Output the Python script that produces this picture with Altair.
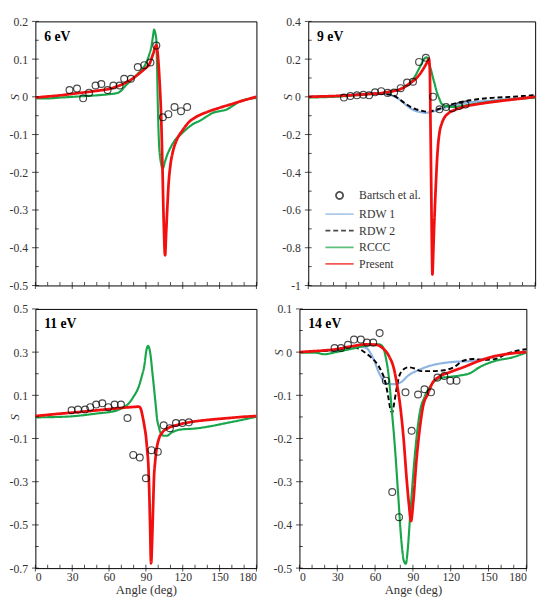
import altair as alt
import pandas as pd

FONT = "Liberation Serif, Times New Roman, DejaVu Serif, serif"
RED = "#f20f0f"
GREEN = "#19a64a"
BLUE = "#8db4e2"
BLACK = "#000000"
TXT = "#333333"

SERIES = ["Bartsch et al.", "RDW 1", "RDW 2", "RCCC", "Present"]

X_MAJOR = [0, 30, 60, 90, 120, 150, 180]
X_MINOR = [10, 20, 40, 50, 70, 80, 100, 110, 130, 140, 160, 170]

# ---------------- 6 eV ----------------
exp6_x = [27.8, 33.9, 38.9, 43.7, 49.0, 53.7, 58.8, 63.5, 68.6, 72.3, 77.8, 83.4, 88.7, 93.7, 98.5, 103.8, 108.3, 113.3, 118.6, 123.6]
exp6_y = [0.018, 0.022, -0.004, 0.011, 0.030, 0.034, 0.018, 0.030, 0.030, 0.048, 0.048, 0.079, 0.084, 0.091, 0.136, -0.054, -0.046, -0.027, -0.038, -0.027]
red6_x = [0, 10, 20, 30, 40, 50, 60, 65, 70, 75, 80, 85, 90, 93, 95.8, 98.5, 100, 101, 102.5, 103.3, 104.5, 105.6, 106.5, 107.5, 108.5, 110, 112, 115, 120, 125, 130, 140, 150, 160, 170, 180]
red6_y = [-0.002, 0.001, 0.004, 0.008, 0.012, 0.016, 0.021, 0.026, 0.032, 0.040, 0.050, 0.063, 0.077, 0.088, 0.113, 0.137, 0.100, 0.050, -0.060, -0.160, -0.330, -0.420, -0.360, -0.290, -0.230, -0.180, -0.145, -0.115, -0.088, -0.067, -0.055, -0.040, -0.029, -0.019, -0.009, 0.0]
green6_x = [0, 10, 20, 30, 40, 50, 60, 65, 68.6, 73.3, 78.6, 83.9, 89.2, 92.4, 94.5, 96.1, 96.6, 97.7, 98.5, 99.0, 99.8, 100.6, 102, 103.8, 105.5, 107.7, 110, 113, 118.3, 123.6, 128.9, 134.2, 139.5, 144.8, 150.1, 155.4, 160.7, 166, 171.3, 180]
green6_y = [-0.004, -0.004, -0.002, 0.0, 0.002, 0.004, 0.007, 0.009, 0.013, 0.029, 0.046, 0.063, 0.084, 0.109, 0.134, 0.168, 0.178, 0.168, 0.151, 0.092, -0.034, -0.118, -0.170, -0.190, -0.172, -0.151, -0.135, -0.118, -0.100, -0.084, -0.071, -0.063, -0.052, -0.042, -0.038, -0.034, -0.024, -0.013, -0.007, -0.003]

# ---------------- 9 eV ----------------
exp9_x = [28.3, 33.4, 38.6, 43.7, 48.3, 53.0, 57.9, 63.0, 68.1, 73.3, 78.4, 83.1, 87.9, 93.3, 99.0, 104.1, 109.3, 114.4, 119.6, 124.7]
exp9_y = [-0.004, 0.004, 0.008, 0.011, 0.008, 0.024, 0.030, 0.021, 0.023, 0.046, 0.076, 0.080, 0.185, 0.207, 0.001, -0.066, -0.054, -0.061, -0.049, -0.041]
red9_x = [0, 10, 20, 30, 40, 50, 56.6, 60, 65, 72, 76, 79.7, 84.9, 87.5, 90, 92.5, 95.1, 95.7, 96.4, 97.0, 97.6, 98.1, 98.5, 99.2, 99.8, 100.5, 101.2, 102.3, 103.2, 104.1, 106, 108, 111, 115, 120, 125, 135, 150, 165, 180]
red9_y = [0.0, 0.002, 0.004, 0.007, 0.011, 0.016, 0.018, 0.022, 0.028, 0.038, 0.050, 0.068, 0.093, 0.112, 0.135, 0.162, 0.194, 0.202, 0.150, -0.150, -0.500, -0.800, -0.942, -0.820, -0.700, -0.580, -0.470, -0.320, -0.240, -0.190, -0.140, -0.110, -0.088, -0.072, -0.060, -0.050, -0.038, -0.024, -0.012, 0.0]
green9_x = [0, 10, 20, 30, 40, 50, 60, 70, 75, 80, 82.3, 85, 87.4, 89.5, 91.3, 93.9, 95.1, 96.4, 97.7, 99, 100.3, 101.6, 102.9, 104.1, 105.4, 107, 109.3, 115.7, 120, 130, 140, 150, 160, 170, 180]
green9_y = [-0.004, -0.002, 0.0, 0.004, 0.010, 0.015, 0.022, 0.035, 0.048, 0.068, 0.085, 0.113, 0.143, 0.170, 0.194, 0.210, 0.194, 0.165, 0.135, 0.100, 0.068, 0.035, 0.009, -0.012, -0.033, -0.042, -0.049, -0.054, -0.050, -0.040, -0.030, -0.022, -0.015, -0.009, -0.004]
blue9_x = [0, 10, 20, 30, 40, 50, 56.6, 62, 66.9, 71, 74.6, 78, 82.3, 86, 90, 93, 95.1, 99, 102.9, 108, 113.1, 118, 123.4, 130, 141.4, 155.6, 170, 180]
blue9_y = [0.0, 0.002, 0.004, 0.008, 0.012, 0.016, 0.018, 0.014, 0.006, -0.008, -0.026, -0.045, -0.066, -0.076, -0.082, -0.085, -0.084, -0.078, -0.070, -0.058, -0.049, -0.040, -0.033, -0.028, -0.022, -0.013, -0.006, -0.002]
black9_x = [0, 10, 20, 30, 40, 50, 56.6, 62, 66.9, 71, 74.6, 78, 82.3, 86, 90, 95.1, 99, 102.9, 108, 113.1, 118, 123.4, 130, 141.4, 155.6, 170, 180]
black9_y = [0.0, 0.002, 0.004, 0.008, 0.012, 0.016, 0.018, 0.015, 0.009, -0.006, -0.024, -0.040, -0.058, -0.067, -0.074, -0.079, -0.074, -0.066, -0.052, -0.041, -0.032, -0.024, -0.017, -0.007, -0.002, 0.004, 0.009]

# ---------------- 11 eV ----------------
exp11_x = [29.5, 34.7, 40.5, 44.7, 49.5, 54.5, 59.5, 64.5, 69.7, 75.0, 79.7, 85.0, 90.0, 94.5, 99.7, 104.5, 109.5, 114.5, 119.7, 125.0]
exp11_y = [0.031, 0.034, 0.034, 0.045, 0.057, 0.063, 0.045, 0.057, 0.057, -0.005, -0.176, -0.188, -0.284, -0.154, -0.161, -0.039, -0.052, -0.028, -0.028, -0.025]
red11_x = [0, 20, 40, 60, 76.8, 82, 84.2, 86, 87.4, 89, 90, 91, 92.1, 92.8, 93.4, 94.2, 95.3, 96, 96.6, 97.5, 98.4, 100.5, 103.2, 108.4, 116.3, 129.5, 142, 155.8, 168, 180]
red11_y = [0.004, 0.015, 0.025, 0.036, 0.045, 0.047, 0.048, 0.035, 0.0, -0.050, -0.088, -0.150, -0.235, -0.360, -0.500, -0.678, -0.530, -0.390, -0.279, -0.210, -0.161, -0.103, -0.073, -0.051, -0.036, -0.021, -0.013, -0.006, 0.0, 0.004]
green11_x = [0, 24, 50.5, 66.3, 71.6, 74.2, 79.5, 84.7, 86.5, 88.7, 90.5, 91.8, 93.9, 95.2, 96.6, 97.9, 99.2, 100.5, 101.8, 104.5, 107.1, 111, 118.9, 129.5, 142.6, 155.8, 168, 180]
green11_y = [-0.002, 0.001, 0.016, 0.030, 0.045, 0.053, 0.090, 0.149, 0.185, 0.237, 0.311, 0.329, 0.281, 0.210, 0.134, 0.060, -0.013, -0.045, -0.072, -0.087, -0.087, -0.072, -0.058, -0.054, -0.043, -0.028, -0.014, 0.001]

# ---------------- 14 eV ----------------
exp14_x = [27.9, 33.0, 38.5, 43.3, 48.7, 53.6, 58.5, 63.6, 68.5, 73.6, 79.0, 84.1, 89.0, 94.1, 99.2, 104.4, 109.5, 114.9, 119.7, 124.6]
exp14_y = [0.0096, 0.0096, 0.017, 0.029, 0.029, 0.022, 0.022, 0.044, -0.066, -0.324, -0.382, -0.093, -0.182, -0.098, -0.086, -0.093, -0.059, -0.055, -0.066, -0.066]
red14_x = [0, 10, 20, 27.4, 40.3, 53, 60.8, 65.9, 71, 74.9, 77.4, 80, 82.6, 85.1, 86.9, 88.5, 90.3, 92.8, 95.4, 98, 101.8, 105.6, 110.8, 119.7, 130, 142.8, 155.6, 168, 180]
red14_y = [0.0, 0.002, 0.004, 0.006, 0.013, 0.018, 0.017, 0.0096, -0.009, -0.038, -0.075, -0.126, -0.200, -0.296, -0.354, -0.391, -0.346, -0.251, -0.178, -0.126, -0.097, -0.071, -0.057, -0.046, -0.035, -0.020, -0.009, -0.003, 0.0]
green14_x = [0, 12, 19.7, 27.4, 40.3, 53, 63.3, 66, 68.5, 71, 73, 75.6, 78.2, 80.8, 82.8, 84.4, 85.9, 87.7, 90.3, 92.8, 95.4, 99.2, 103.1, 106.9, 112, 119.7, 127.4, 135.1, 142.8, 155.6, 168.5, 180]
green14_y = [-0.001, -0.001, -0.005, -0.001, 0.007, 0.015, 0.018, 0.013, -0.0125, -0.060, -0.126, -0.215, -0.325, -0.435, -0.483, -0.490, -0.457, -0.384, -0.281, -0.200, -0.141, -0.104, -0.082, -0.068, -0.060, -0.057, -0.054, -0.049, -0.035, -0.020, -0.0125, -0.001]
blue14_x = [0, 10, 20, 27.4, 40.3, 48, 53, 58.2, 63.3, 67.2, 71, 76.2, 81.3, 86.4, 94.1, 104.4, 114.6, 124.9, 135.1, 145.4, 155.6, 171, 180]
blue14_y = [0.0, 0.001, 0.003, 0.004, 0.0096, 0.013, 0.0096, -0.0125, -0.049, -0.068, -0.074, -0.074, -0.068, -0.054, -0.042, -0.031, -0.025, -0.022, -0.021, -0.016, -0.010, -0.0015, 0.002]
black14_x = [0, 10, 20, 27.4, 40.3, 45.4, 50.5, 55.6, 60.8, 64.6, 68, 70.5, 72.3, 73.6, 75.1, 76.7, 78.7, 81.8, 86.4, 91.5, 96.7, 104.4, 114.6, 122.3, 130, 137.7, 145.4, 155.6, 163.3, 171, 180]
black14_y = [0.0, 0.001, 0.003, 0.004, 0.0096, 0.0096, 0.002, -0.009, -0.024, -0.042, -0.068, -0.104, -0.134, -0.140, -0.119, -0.090, -0.060, -0.042, -0.035, -0.038, -0.044, -0.044, -0.042, -0.035, -0.020, -0.016, -0.018, -0.016, -0.005, 0.002, 0.007]

# axis ticks per panel
Y6_MAJOR = [-0.5, -0.4, -0.3, -0.2, -0.1, 0, 0.1, 0.2]
Y6_MINOR = [-0.45, -0.35, -0.25, -0.15, -0.05, 0.05, 0.15]
Y9_MAJOR = [-1, -0.8, -0.6, -0.4, -0.2, 0, 0.2, 0.4]
Y9_MINOR = [-0.9, -0.7, -0.5, -0.3, -0.1, 0.1, 0.3]
Y11_MAJOR = [-0.7, -0.5, -0.3, -0.1, 0.1, 0.3, 0.5]
Y11_MINOR = [-0.6, -0.4, -0.2, 0, 0.2, 0.4]
Y14_MAJOR = [-0.5, -0.4, -0.3, -0.2, -0.1, 0, 0.1]
Y14_MINOR = [-0.45, -0.35, -0.25, -0.15, -0.05, 0.05]

LINE_PATH = "M-4,0L4,0"
color_scale = alt.Scale(domain=SERIES, range=[BLACK, BLUE, BLACK, GREEN, RED])
shape_scale = alt.Scale(domain=SERIES, range=["circle", LINE_PATH, LINE_PATH, LINE_PATH, LINE_PATH])
dash_scale = alt.Scale(domain=SERIES, range=[[1, 0], [1, 0], [5, 3], [1, 0], [1, 0]])


def df(x, y, name):
    return pd.DataFrame({"angle": x, "S": y, "series": name})


def panel(label, exp, curves, ydom, ymajor, yminor, W, H, xtitle, legend=None):
    xs = alt.Scale(domain=[0, 180], nice=False)
    ys = alt.Scale(domain=ydom, nice=False, zero=False)
    y0 = H * ydom[1] / (ydom[1] - ydom[0])
    X = alt.X("angle:Q", scale=xs, title=xtitle,
              axis=alt.Axis(values=X_MAJOR, ticks=False, domain=False, grid=False,
                            labels=xtitle is not None, labelFont=FONT, labelFontSize=12,
                            labelColor=TXT, labelPadding=4, labelExpr="'' + datum.value",
                            titleFont=FONT, titleFontSize=13, titleFontWeight="normal",
                            titlePadding=1, titleColor=TXT))
    Y = alt.Y("S:Q", scale=ys, title="S",
              axis=alt.Axis(values=ymajor, ticks=False, domain=False, grid=False,
                            labelFont=FONT, labelFontSize=12, labelColor=TXT,
                            labelPadding=8, labelExpr="'' + datum.value",
                            titleFont=FONT, titleFontSize=13, titleFontStyle="italic",
                            titleFontWeight="normal", titleColor=TXT, titleAngle=270,
                            titleAlign="center", titleBaseline="bottom",
                            titleX=-14, titleY=y0))
    layers = []
    for (name, x, y, col, w, dash) in curves:
        d = df(x, y, name)
        if legend is None:
            m = alt.Chart(d).mark_line(color=col, strokeWidth=w, strokeDash=dash,
                                       interpolate="monotone").encode(x=X, y=Y)
        else:
            m = alt.Chart(d).mark_line(strokeWidth=w, interpolate="monotone").encode(
                x=X, y=Y,
                color=alt.Color("series:N", scale=color_scale, legend=legend, title=None),
                strokeDash=alt.StrokeDash("series:N", scale=dash_scale, legend=legend, title=None))
        layers.append(m)
    ed = df(exp[0], exp[1], SERIES[0])
    if legend is None:
        pts = alt.Chart(ed).mark_point(filled=False, shape="circle", size=49, strokeWidth=1.2,
                                       color=BLACK).encode(x=X, y=Y)
    else:
        pts = alt.Chart(ed).mark_point(filled=False, size=49, strokeWidth=1.2).encode(
            x=X, y=Y,
            color=alt.Color("series:N", scale=color_scale, legend=legend, title=None),
            shape=alt.Shape("series:N", scale=shape_scale, legend=legend, title=None))
    layers.append(pts)

    # ticks crossing the axes (major) and inside (minor)
    layers.append(alt.Chart(pd.DataFrame({"angle": X_MAJOR})).mark_tick(
        orient="vertical", color=BLACK, thickness=1, size=7).encode(x=X, y=alt.value(H)))
    layers.append(alt.Chart(pd.DataFrame({"angle": X_MINOR})).mark_tick(
        orient="vertical", color=BLACK, thickness=1, size=3.5).encode(x=X, y=alt.value(H - 1.75)))
    layers.append(alt.Chart(pd.DataFrame({"S": ymajor})).mark_tick(
        orient="horizontal", color=BLACK, thickness=1, size=7).encode(y=Y, x=alt.value(0)))
    layers.append(alt.Chart(pd.DataFrame({"S": yminor})).mark_tick(
        orient="horizontal", color=BLACK, thickness=1, size=3.5).encode(y=Y, x=alt.value(1.75)))

    layers.append(alt.Chart(pd.DataFrame({"t": [label]})).mark_text(
        align="left", baseline="alphabetic", font=FONT, fontSize=14, fontWeight="bold",
        color=BLACK).encode(x=alt.value(9), y=alt.value(20), text="t:N"))

    return alt.layer(*layers).properties(width=W, height=H)


W1, W2 = 226, 232
H1, H2 = 270, 265

leg = alt.Legend(orient="none", legendX=26, legendY=172, symbolSize=52,
                 symbolStrokeWidth=1.8, labelFont=FONT, labelFontSize=12, labelColor=TXT,
                 labelOffset=14, rowPadding=5, padding=0, symbolFillColor="transparent")

p1 = panel("6 eV", (exp6_x, exp6_y),
           [("RCCC", green6_x, green6_y, GREEN, 2.2, [1, 0]),
            ("Present", red6_x, red6_y, RED, 2.8, [1, 0])],
           [-0.5, 0.2], Y6_MAJOR, Y6_MINOR, W1, H1, None)
p2 = panel("9 eV", (exp9_x, exp9_y),
           [("RDW 1", blue9_x, blue9_y, BLUE, 2.2, [1, 0]),
            ("RDW 2", black9_x, black9_y, BLACK, 2.0, [5, 3]),
            ("RCCC", green9_x, green9_y, GREEN, 2.2, [1, 0]),
            ("Present", red9_x, red9_y, RED, 2.8, [1, 0])],
           [-1, 0.4], Y9_MAJOR, Y9_MINOR, W2, H1, None, legend=leg)
p3 = panel("11 eV", (exp11_x, exp11_y),
           [("RCCC", green11_x, green11_y, GREEN, 2.2, [1, 0]),
            ("Present", red11_x, red11_y, RED, 2.8, [1, 0])],
           [-0.7, 0.5], Y11_MAJOR, Y11_MINOR, W1, H2, "Angle (deg)")
p4 = panel("14 eV", (exp14_x, exp14_y),
           [("RDW 1", blue14_x, blue14_y, BLUE, 2.2, [1, 0]),
            ("RDW 2", black14_x, black14_y, BLACK, 2.0, [5, 3]),
            ("RCCC", green14_x, green14_y, GREEN, 2.2, [1, 0]),
            ("Present", red14_x, red14_y, RED, 2.8, [1, 0])],
           [-0.5, 0.1], Y14_MAJOR, Y14_MINOR, W2, H2, "Ange (deg)")

top = alt.hconcat(p1, p2, spacing=18).resolve_scale(color="independent", shape="independent", strokeDash="independent")
bottom = alt.hconcat(p3, p4, spacing=9).resolve_scale(color="independent", shape="independent", strokeDash="independent")

chart = alt.vconcat(top, bottom, spacing=10).resolve_scale(
    color="independent", shape="independent", strokeDash="independent"
).properties(padding=0, background="white").configure_view(stroke="black", strokeWidth=1)

chart.save("out.html", embed_options={"renderer": "svg", "actions": False})
